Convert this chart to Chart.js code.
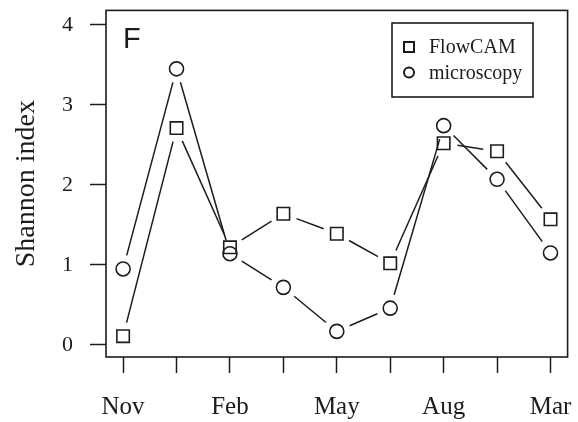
<!DOCTYPE html>
<html>
<head>
<meta charset="utf-8">
<script src="https://cdn.jsdelivr.net/npm/chart.js@4.4.1/dist/chart.umd.min.js"></script>
<style>
  html, body { margin: 0; padding: 0; background: #fff; }
  #wrap { width: 578px; height: 422px; }
</style>
</head>
<body>
<div id="wrap"><canvas id="c" width="578" height="422"></canvas></div>
<script>
// Sampling occasions (index along the x axis) and their tick labels
const samplePositions = [1, 2, 3, 4, 5, 6, 7, 8, 9];
const tickLabels = ['Nov', '', 'Feb', '', 'May', '', 'Aug', '', 'Mar'];
const yTicks = [0, 1, 2, 3, 4];

// Shannon diversity index per sample
const flowcam = [0.11, 2.71, 1.22, 1.64, 1.39, 1.02, 2.52, 2.42, 1.57];
const microscopy = [0.95, 3.45, 1.14, 0.72, 0.17, 0.46, 2.74, 2.07, 1.15];

const INK = '#1c1c1c';
const SERIF = "'Liberation Serif', 'Times New Roman', serif";
const SANS = "'Liberation Sans', Arial, sans-serif";

const toPoints = vals => vals.map((v, i) => ({ x: samplePositions[i], y: v }));

// Keep the plot area fixed: no extra room reserved for edge labels
function noEdgePadding(scale) {
  scale.paddingTop = 0;
  scale.paddingBottom = 0;
  scale.paddingLeft = 0;
  scale.paddingRight = 0;
}

// White page background
const bgPlugin = {
  id: 'bg',
  beforeDraw(chart) {
    const ctx = chart.ctx;
    ctx.save();
    ctx.fillStyle = '#fff';
    ctx.fillRect(0, 0, chart.width, chart.height);
    ctx.restore();
  }
};

// Connecting segments that stop short of each symbol (points-and-lines style)
const gappedLines = {
  id: 'gappedLines',
  beforeDatasetsDraw(chart) {
    const ctx = chart.ctx;
    const gap = 14;
    ctx.save();
    ctx.strokeStyle = INK;
    ctx.lineWidth = 1.5;
    ctx.lineCap = 'butt';
    chart.data.datasets.forEach((ds, di) => {
      const pts = chart.getDatasetMeta(di).data;
      for (let i = 0; i < pts.length - 1; i++) {
        const a = pts[i], b = pts[i + 1];
        const dx = b.x - a.x, dy = b.y - a.y;
        const len = Math.hypot(dx, dy);
        if (len <= 2 * gap) continue;
        const ux = dx / len, uy = dy / len;
        ctx.beginPath();
        ctx.moveTo(a.x + ux * gap, a.y + uy * gap);
        ctx.lineTo(b.x - ux * gap, b.y - uy * gap);
        ctx.stroke();
      }
    });
    ctx.restore();
  }
};

// Plot frame, panel letter and boxed legend
const framePlugin = {
  id: 'frame',
  afterDraw(chart) {
    const ctx = chart.ctx;
    const a = chart.chartArea;
    ctx.save();
    ctx.strokeStyle = INK;
    ctx.lineWidth = 1.6;
    ctx.strokeRect(a.left, a.top, a.right - a.left, a.bottom - a.top);

    // panel letter
    ctx.fillStyle = INK;
    ctx.font = '29px ' + SANS;
    ctx.textBaseline = 'alphabetic';
    ctx.textAlign = 'left';
    ctx.fillText('F', a.left + 17, a.top + 38);

    // legend
    const lx = 392, ly = 23, lw = 141, lh = 74;
    ctx.lineWidth = 1.6;
    ctx.strokeRect(lx, ly, lw, lh);
    const rows = [ly + 24, ly + 49.5];
    ctx.font = '20px ' + SERIF;
    ctx.textBaseline = 'middle';
    chart.data.datasets.forEach((ds, i) => {
      const cy = rows[i];
      const cx = lx + 17;
      ctx.lineWidth = 2;
      ctx.beginPath();
      if (ds.pointStyle === 'rect') {
        ctx.rect(cx - 5, cy - 5, 10, 10);
      } else {
        ctx.arc(cx, cy, 5, 0, Math.PI * 2);
      }
      ctx.stroke();
      ctx.fillText(ds.label, lx + 37, cy + 1);
    });
    ctx.restore();
  }
};

new Chart(document.getElementById('c'), {
  type: 'scatter',
  data: {
    datasets: [
      {
        label: 'FlowCAM',
        data: toPoints(flowcam),
        showLine: false,
        pointStyle: 'rect',
        pointRadius: 8.8,
        pointBorderWidth: 1.6,
        pointBorderColor: INK,
        pointBackgroundColor: 'rgba(255,255,255,0)'
      },
      {
        label: 'microscopy',
        data: toPoints(microscopy),
        showLine: false,
        pointStyle: 'circle',
        pointRadius: 7,
        pointBorderWidth: 1.6,
        pointBorderColor: INK,
        pointBackgroundColor: 'rgba(255,255,255,0)'
      }
    ]
  },
  options: {
    responsive: false,
    animation: false,
    devicePixelRatio: 1,
    layout: { padding: { top: 8, right: 9, left: 0, bottom: 0 } },
    plugins: {
      legend: { display: false },
      tooltip: { enabled: false }
    },
    scales: {
      x: {
        type: 'linear',
        min: 0.68,
        max: 9.32,
        afterBuildTicks(scale) {
          scale.ticks = samplePositions.map(v => ({ value: v }));
        },
        afterFit(scale) {
          scale.height = 65;
          noEdgePadding(scale);
        },
        border: { display: false },
        grid: {
          drawOnChartArea: false,
          drawTicks: true,
          tickLength: 16,
          tickColor: INK,
          tickWidth: 1.5
        },
        ticks: {
          autoSkip: false,
          maxRotation: 0,
          padding: 19,
          color: INK,
          font: { family: SERIF, size: 25 },
          callback: (value, index) => tickLabels[index]
        }
      },
      y: {
        min: -0.15,
        max: 4.18,
        afterBuildTicks(scale) {
          scale.ticks = yTicks.map(v => ({ value: v }));
        },
        afterFit(scale) {
          scale.width = 106;
          noEdgePadding(scale);
        },
        border: { display: false },
        grid: {
          drawOnChartArea: false,
          drawTicks: true,
          tickLength: 16,
          tickColor: INK,
          tickWidth: 1.5
        },
        ticks: {
          padding: 17,
          color: INK,
          font: { family: SERIF, size: 22 },
          callback: v => String(v)
        },
        title: {
          display: true,
          text: 'Shannon index',
          color: INK,
          font: { family: SERIF, size: 28 },
          padding: { top: 10, bottom: 0 }
        }
      }
    }
  },
  plugins: [bgPlugin, gappedLines, framePlugin]
});
</script>
</body>
</html>
